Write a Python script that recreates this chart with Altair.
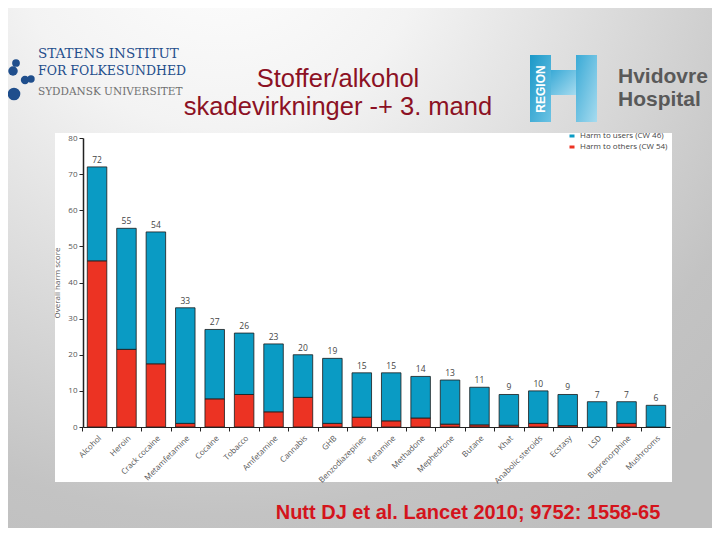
import altair as alt
import pandas as pd

drugs = ["Alcohol", "Heroin", "Crack cocaine", "Metamfetamine", "Cocaine", "Tobacco",
         "Amfetamine", "Cannabis", "GHB", "Benzodiazepines", "Ketamine", "Methadone",
         "Mephedrone", "Butane", "Khat", "Anabolic steroids", "Ecstasy", "LSD",
         "Buprenorphine", "Mushrooms"]
total_harm = [72, 55, 54, 33, 27, 26, 23, 20, 19, 15, 15, 14, 13, 11, 9, 10, 9, 7, 7, 6]
harm_others = [46, 21.5, 17.5, 1, 7.8, 9, 4.2, 8.2, 1, 2.7, 1.7, 2.5, 0.8, 0.6, 0.5, 1, 0.4, 0, 1, 0]
series = ["Harm to users (CW 46)", "Harm to others (CW 54)"]
series_colors = ["#0a9bc4", "#ec3323"]
y_ticks = [0, 10, 20, 30, 40, 50, 60, 70, 80]

rows = []
for d, t, o in zip(drugs, total_harm, harm_others):
    rows.append({"drug": d, "series": series[1], "value": o, "ord": 0})
    rows.append({"drug": d, "series": series[0], "value": t - o, "ord": 1})
long_df = pd.DataFrame(rows)
tot_df = pd.DataFrame({"drug": drugs, "total": total_harm})

W, H = 587, 289
one = alt.Data(values=[{"a": 1}])

x_axis = alt.Axis(labelAngle=-45, labelFontSize=8, labelColor="#555555",
                  labelFont="Open Sans", domainColor="#222222", domainWidth=1.2,
                  tickColor="#222222", tickSize=4, tickOffset=-14.7, labelOffset=14.7,
                  labelPadding=3, zindex=1, labelOverlap=False)
x_scale = alt.Scale(paddingInner=0.337, paddingOuter=0.146)
y_axis = alt.Axis(values=y_ticks, title="Overall harm score", titleFontSize=8,
                  titleFontWeight="normal", titleColor="#555555", titleFont="Open Sans",
                  labelFontSize=8, labelColor="#555555", labelFont="Open Sans",
                  domainColor="#222222", domainWidth=1.5, tickColor="#222222",
                  tickSize=4, grid=False, titlePadding=6, zindex=1,
                  labelOverlap=False, labelFlush=False)
y_scale = alt.Scale(domain=[0, 80], nice=False)

def rect(x1, x2, y1, y2, color, **kw):
    return alt.Chart(one).mark_rect(color=color, **kw).encode(
        x=alt.value(x1), x2=alt.value(x2), y=alt.value(y1), y2=alt.value(y2))

def txt(s, x, y, size, color, font="Liberation Sans", weight="normal", align="center", angle=0):
    return alt.Chart(one).mark_text(text=s, fontSize=size, color=color, font=font,
                                    fontWeight=weight, align=align, baseline="middle",
                                    angle=angle).encode(x=alt.value(x), y=alt.value(y))

bg = rect(-75, 629, -130, 390, alt.RadialGradient(
    gradient="radial", x1=0.3, y1=0, r1=0, x2=0.3, y2=0, r2=1.0,
    stops=[alt.GradientStop(color="#ffffff", offset=0),
           alt.GradientStop(color="#f3f3f3", offset=0.3),
           alt.GradientStop(color="#c3c3c3", offset=0.85),
           alt.GradientStop(color="#bfbfbf", offset=1)]))
panel = rect(-28, 589, -5, 344, "#ffffff")

hgrad = alt.LinearGradient(gradient="linear", x1=0, y1=0, x2=1, y2=1,
                           stops=[alt.GradientStop(color="#1b98c8", offset=0),
                                  alt.GradientStop(color="#6cc3e4", offset=1)])
hgrad2 = alt.LinearGradient(gradient="linear", x1=0, y1=0, x2=1, y2=1,
                            stops=[alt.GradientStop(color="#3aaad6", offset=0),
                                   alt.GradientStop(color="#a6dbef", offset=1)])
h_left = rect(447, 468, -83, -16, hgrad)
h_mid = rect(468, 493, -68, -43, hgrad2)
h_right = rect(493, 514, -83, -16, hgrad2)
region = txt("REGION", 458, -49, 12, "#ffffff", weight="bold", angle=270)
hv1 = txt("Hvidovre", 535, -61, 21, "#595959", weight="bold", align="left")
hv2 = txt("Hospital", 535, -38, 21, "#595959", weight="bold", align="left")

leaves = alt.Chart(alt.Data(values=[
    {"px": -67, "py": -75, "s": 60}, {"px": -70, "py": -67, "s": 90},
    {"px": -79, "py": -55, "s": 55}, {"px": -58, "py": -58, "s": 70},
    {"px": -52, "py": -59, "s": 55}, {"px": -69, "py": -44, "s": 160}])).mark_point(
    filled=True, color="#1f4e8c", opacity=1, shape="circle").encode(
    x=alt.X("px:Q", scale=None), y=alt.Y("py:Q", scale=None), size=alt.Size("s:Q", scale=None))
sl1 = txt("STATENS INSTITUT", -45, -84, 13.5, "#1f4e8c", font="DejaVu Serif", align="left")
sl2 = txt("FOR FOLKESUNDHED", -45, -67, 12.5, "#1f4e8c", font="DejaVu Serif", align="left")
sl3 = txt("SYDDANSK UNIVERSITET", -45, -46, 10.5, "#707070", font="DejaVu Serif", align="left")

t1 = txt("Stoffer/alkohol", 255, -59, 25.5, "#8c1124")
t2 = txt("skadevirkninger -+ 3. mand", 255, -31, 25.5, "#8c1124")
cite = txt("Nutt DJ et al. Lancet 2010; 9752: 1558-65", 385, 375, 20, "#d4141c", weight="bold")

bars = alt.Chart(long_df).mark_bar(stroke="#1a1a1a", strokeWidth=0.8).encode(
    x=alt.X("drug:N", sort=drugs, title=None, scale=x_scale, axis=x_axis),
    y=alt.Y("value:Q", stack="zero", scale=y_scale, axis=y_axis),
    color=alt.Color("series:N", scale=alt.Scale(domain=series, range=series_colors),
                    legend=alt.Legend(title=None, orient="none", legendX=485, legendY=-6,
                                      symbolType="M-1,-0.6H1V0.6H-1Z", symbolSize=25,
                                      symbolStrokeWidth=0, labelFontSize=8, labelColor="#444444",
                                      labelFont="Open Sans", rowPadding=3)),
    order=alt.Order("ord:Q"))

labels = alt.Chart(tot_df).mark_text(dy=-7, fontSize=8.5, color="#444444", font="Open Sans").encode(
    x=alt.X("drug:N", sort=drugs, title=None, scale=x_scale, axis=x_axis),
    y=alt.Y("total:Q", title="Overall harm score", scale=y_scale, axis=y_axis),
    text=alt.Text("total:Q"))

chart = alt.layer(bg, panel, h_left, h_mid, h_right, region, hv1, hv2, leaves, sl1, sl2, sl3,
                  t1, t2, cite, bars, labels).properties(
    width=W, height=H,
    autosize=alt.AutoSizeParams(type="none"),
    padding={"left": 75, "top": 130, "right": 42, "bottom": 101},
    background="#ffffff"
).configure_view(stroke=None)

chart.save("out.html", embed_options={"renderer": "svg", "actions": False})
